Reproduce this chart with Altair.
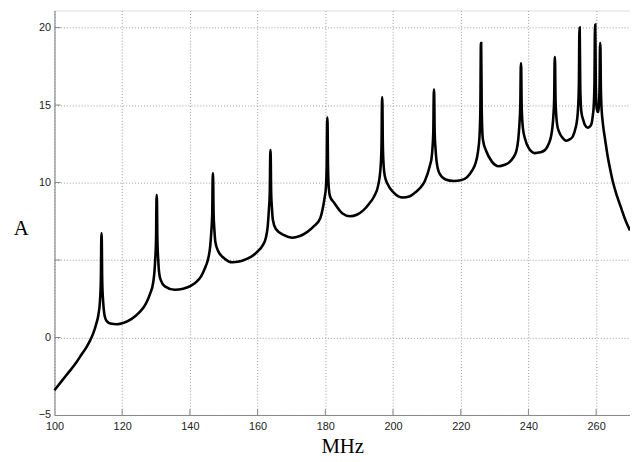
import altair as alt
import pandas as pd

# Continuous response (MHz, A) between the resonance spikes
curve_mhz = [
    100, 102, 104, 106, 108, 109.5, 110.5, 111.5, 112.3, 113.0, 113.45,
    114.35, 114.7, 115.0, 115.6, 116.5, 118.4, 120.5, 122.8, 125.0, 126.8, 128.2, 129.2, 129.55, 129.75,
    130.65, 130.9, 131.4, 132.6, 135.5, 138.0, 140.4, 142.0, 143.3, 144.5, 145.3, 146.0, 146.35,
    147.25, 147.5, 148.3, 150.2, 152.6, 154.5, 156.0, 158.0, 160.0, 161.5, 162.4, 163.0, 163.35,
    164.25, 164.5, 165.4, 167.8, 170.2, 172.5, 174.6, 176.5, 178.5, 179.4, 179.85, 180.15,
    181.05, 181.4, 182.6, 185.1, 187.3, 189.3, 191.2, 193.0, 194.4, 195.6, 196.35,
    197.25, 197.6, 198.4, 200.2, 202.9, 204.8, 206.5, 208.0, 209.4, 210.9, 211.4, 211.65,
    212.55, 212.85, 213.7, 215.5, 218.0, 220.0, 221.9, 223.3, 224.3, 225.1, 225.55,
    226.45, 226.7, 227.4, 229.2, 231.2, 233.0, 234.3, 235.5, 236.5, 237.0, 237.35,
    238.25, 238.5, 238.9, 240.0, 241.9, 243.5, 244.9, 246.0, 246.7, 247.1, 247.35,
    248.25, 248.5, 249.0, 250.0, 251.2, 252.3, 253.1, 253.9, 254.4, 254.65,
    255.55, 255.75, 256.1, 256.7, 257.5, 258.2, 258.7, 259.05, 259.25,
    260.15, 260.4, 260.6, 260.75,
    261.65, 261.8, 262.1, 262.7, 263.4, 264.2, 265.0, 266.2, 267.4, 268.6, 270.0,
]
curve_amp = [
    -3.4, -2.85, -2.3, -1.75, -1.1, -0.6, -0.2, 0.3, 0.85, 1.5, 2.4,
    2.4, 1.55, 1.25, 1.02, 0.9, 0.85, 0.95, 1.2, 1.6, 2.1, 2.8, 3.6, 4.3, 5.0,
    5.0, 4.2, 3.7, 3.3, 3.08, 3.15, 3.35, 3.6, 3.95, 4.5, 5.0, 5.9, 6.9,
    6.9, 6.2, 5.6, 5.1, 4.85, 4.9, 5.0, 5.2, 5.55, 5.95, 6.4, 7.2, 8.3,
    8.3, 7.6, 7.0, 6.6, 6.44, 6.55, 6.8, 7.15, 7.7, 8.5, 9.1, 9.6,
    9.6, 9.1, 8.7, 8.0, 7.82, 7.92, 8.2, 8.65, 9.1, 9.8, 11.05,
    11.05, 10.4, 9.9, 9.35, 9.03, 9.1, 9.35, 9.65, 10.1, 11.1, 11.6, 12.2,
    12.2, 11.4, 10.6, 10.2, 10.1, 10.15, 10.35, 10.75, 11.2, 12.0, 13.0,
    13.0, 12.6, 12.1, 11.35, 11.05, 11.15, 11.3, 11.6, 12.1, 12.8, 13.8,
    13.8, 13.3, 12.9, 12.25, 11.9, 11.95, 12.1, 12.5, 13.0, 13.6, 14.24,
    14.24, 13.7, 13.3, 12.9, 12.7, 12.8, 12.97, 13.5, 14.1, 14.77,
    14.77, 14.4, 14.1, 13.7, 13.54, 13.62, 13.85, 14.4, 14.8,
    14.8, 14.6, 14.55, 14.8,
    14.6, 14.2, 13.6, 12.7, 11.7, 10.8, 10.0, 9.1, 8.35, 7.6, 6.9,
]

# Resonance spikes: rising leg, top, top, falling leg
spike_mhz = [
    113.7, 113.86, 113.94, 114.1,
    130.0, 130.16, 130.24, 130.4,
    146.6, 146.76, 146.84, 147.0,
    163.6, 163.76, 163.84, 164.0,
    180.4, 180.56, 180.64, 180.8,
    196.6, 196.76, 196.84, 197.0,
    211.9, 212.06, 212.14, 212.3,
    225.8, 225.96, 226.04, 226.2,
    237.6, 237.76, 237.84, 238.0,
    247.6, 247.76, 247.84, 248.0,
    254.9, 255.06, 255.14, 255.3,
    259.5, 259.66, 259.74, 259.9,
    261.0, 261.16, 261.24, 261.4,
]
spike_amp = [
    3.7, 6.73, 6.73, 3.7,
    6.3, 9.2, 9.2, 6.3,
    8.0, 10.6, 10.6, 8.0,
    9.4, 12.1, 12.1, 9.4,
    11.0, 14.2, 14.2, 11.0,
    12.4, 15.5, 15.5, 12.4,
    13.3, 16.0, 16.0, 13.3,
    14.8, 19.0, 19.0, 14.8,
    15.0, 17.7, 17.7, 15.0,
    15.4, 18.1, 18.1, 15.4,
    16.3, 20.0, 20.0, 16.3,
    16.4, 20.2, 20.2, 16.4,
    16.1, 19.0, 19.0, 16.1,
]

x_ticks = [100, 120, 140, 160, 180, 200, 220, 240, 260]
y_ticks = [-5, 0, 5, 10, 15, 20]

df = pd.DataFrame({"MHz": curve_mhz + spike_mhz, "A": curve_amp + spike_amp})
df = df.sort_values("MHz", kind="stable").reset_index(drop=True)
df["order"] = range(len(df))

xscale = alt.Scale(domain=[100, 270], nice=False, zero=False)
yscale = alt.Scale(domain=[-5, 21.1], nice=False, zero=False)

xaxis = alt.Axis(
    values=x_ticks, title="MHz", grid=True, gridColor="#9a9a9a", gridDash=[1, 2],
    gridWidth=1, domainColor="#888888", domainWidth=1, ticks=False, labelFlush=False,
    labelFont="Liberation Sans", labelFontSize=11, labelColor="#222222", labelPadding=6,
    titleFont="Liberation Serif", titleFontSize=21, titleFontWeight="normal",
    titleColor="#000000", titleY=32, titleBaseline="middle",
)
yaxis = alt.Axis(
    values=y_ticks, title="A", grid=True, gridColor="#9a9a9a", gridDash=[1, 2],
    gridWidth=1, domainColor="#888888", domainWidth=1, ticks=False,
    labelFont="Liberation Sans", labelFontSize=11, labelColor="#222222", labelPadding=4,
    labelExpr="datum.value == 5 ? '' : datum.label",
    titleFont="Liberation Serif", titleFontSize=21, titleFontWeight="normal",
    titleColor="#000000", titleAngle=0, titleX=-34, titleY=221,
    titleAlign="center", titleBaseline="middle",
)

line = alt.Chart(df).mark_line(color="black", strokeWidth=2.6, interpolate="monotone").encode(
    x=alt.X("MHz:Q", scale=xscale, axis=xaxis),
    y=alt.Y("A:Q", scale=yscale, axis=yaxis),
    order="order:Q",
)

xt = pd.DataFrame({"x": x_ticks[1:], "y0": [-5] * 8, "y1": [-4.62] * 8})
xtick_layer = alt.Chart(xt).mark_rule(color="#888888", strokeWidth=1).encode(
    x=alt.X("x:Q", scale=xscale), y=alt.Y("y0:Q", scale=yscale), y2="y1:Q"
)
yt = pd.DataFrame({"y": y_ticks[1:], "x0": [100] * 5, "x1": [101.8] * 5})
ytick_layer = alt.Chart(yt).mark_rule(color="#888888", strokeWidth=1).encode(
    y=alt.Y("y:Q", scale=yscale), x=alt.X("x0:Q", scale=xscale), x2="x1:Q"
)

chart = alt.layer(xtick_layer, ytick_layer, line).properties(
    width=582, height=409,
    autosize=alt.AutoSizeParams(type="none"),
    padding={"left": 47, "top": 0, "right": 0, "bottom": 45},
).configure_view(stroke=None).configure(background="white")

chart.save("out.html", embed_options={"renderer": "svg", "actions": False})
